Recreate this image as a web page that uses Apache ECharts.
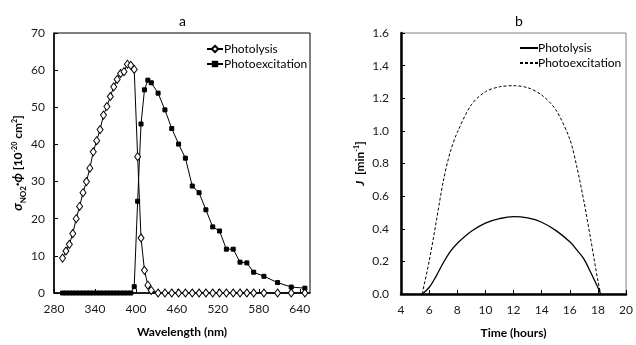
<!DOCTYPE html>
<html>
<head>
<meta charset="utf-8">
<script src="https://cdn.jsdelivr.net/npm/echarts@6/dist/echarts.min.js"></script>
<style>
html,body{margin:0;padding:0;background:#fff;}
#chart{width:636px;height:345px;}
</style>
</head>
<body>
<div id="chart"></div>
<script>
// ---- Data ----
const wavelength = [292.5, 297.5, 302.5, 307.5, 312.5, 317.5, 322.5, 327.5, 332.5, 337.5,
  342.5, 347.5, 352.5, 357.5, 362.5, 367.5, 372.5, 377.5, 382.5, 387.5,
  392.5, 397.5, 402.5, 407.5, 412.5, 417.5, 422.5, 432.5, 442.5, 452.5,
  462.5, 472.5, 482.5, 492.5, 502.5, 512.5, 522.5, 532.5, 542.5, 552.5,
  562.5, 572.5, 587.5, 607.5, 627.5, 647.5];
const photolysisSigma = [9.4, 11.3, 13.1, 16.0, 20.0, 23.3, 27.0, 30.0, 33.6, 38.0,
  41.0, 44.0, 47.9, 50.2, 52.9, 55.5, 57.5, 59.1, 59.6, 61.6,
  61.3, 60.2, 36.7, 14.8, 6.1, 2.1, 0.7, 0, 0, 0,
  0, 0, 0, 0, 0, 0, 0, 0, 0, 0,
  0, 0, 0, 0, 0, 0];
const photoexcitationSigma = [0, 0, 0, 0, 0, 0, 0, 0, 0, 0,
  0, 0, 0, 0, 0, 0, 0, 0, 0, 0,
  0, 1.7, 24.7, 45.5, 54.7, 57.3, 56.6, 53.8, 49.3, 44.3,
  40.1, 36.3, 28.8, 27.0, 22.4, 17.8, 16.7, 11.8, 11.8, 8.3,
  8.1, 5.6, 4.5, 2.8, 1.6, 1.3];

const hours = [5.5, 6, 6.5, 7, 7.5, 8, 9, 10, 11, 12, 13, 14, 15, 16, 16.5, 17, 17.5, 18, 18.2];
const jPhotolysis = [0, 0.04, 0.11, 0.19, 0.26, 0.31, 0.385, 0.435, 0.462, 0.474, 0.466, 0.44, 0.39, 0.32, 0.27, 0.215, 0.13, 0.04, 0];
const jPhotoexcitation = [0, 0.2, 0.44, 0.69, 0.87, 0.99, 1.16, 1.24, 1.27, 1.277, 1.265, 1.22, 1.13, 0.95, 0.78, 0.57, 0.33, 0.08, 0];

const leftXTicks = {min: 280, max: 655, interval: 60};
const leftYTicks = {min: 0, max: 70, interval: 10};
const rightXTicks = {min: 4, max: 20, interval: 2};
const rightYTicks = {min: 0, max: 1.6, interval: 0.2};

const seriesNames = ['Photolysis', 'Photoexcitation'];

// ---- Build ----
const FONT = 'Lato';
const zip = (xs, ys) => xs.map((x, i) => [x, ys[i]]);

const chart = echarts.init(document.getElementById('chart'), null, {renderer: 'canvas'});
const labelStyle = {color: '#1a1a1a', fontFamily: FONT, fontSize: 12};

const option = {
  animation: false,
  backgroundColor: '#fff',
  textStyle: {fontFamily: FONT},
  title: [
    {text: 'a', left: 174, top: 9, textStyle: {fontFamily: FONT, fontSize: 14, fontWeight: 'normal', color: '#000'}},
    {text: 'b', left: 510, top: 9, textStyle: {fontFamily: FONT, fontSize: 14, fontWeight: 'normal', color: '#000'}}
  ],
  legend: [
    {
      data: seriesNames, orient: 'vertical', left: 201, top: 38,
      itemWidth: 16, itemHeight: 8, itemGap: 3,
      textStyle: {fontFamily: FONT, fontSize: 12, color: '#000', padding: [0, 0, 0, -4]},
      selectedMode: false
    },
    {
      data: seriesNames.map(n => n + ' '), orient: 'vertical', left: 514, top: 37,
      itemWidth: 18, itemHeight: 8, itemGap: 3,
      formatter: n => n.trim(),
      itemStyle: {opacity: 0},
      textStyle: {fontFamily: FONT, fontSize: 12, color: '#000', padding: [0, 0, 0, -5]},
      selectedMode: false
    }
  ],
  grid: [
    {left: 54, right: 326, top: 33, bottom: 52, show: true, borderColor: '#000', borderWidth: 1},
    {left: 401, right: 8, top: 33, bottom: 51, show: true, borderColor: '#808080', borderWidth: 1}
  ],
  xAxis: [
    {
      type: 'value', gridIndex: 0, min: leftXTicks.min, max: leftXTicks.max, interval: leftXTicks.interval,
      name: 'Wavelength (nm)', nameLocation: 'middle', nameGap: 33,
      nameTextStyle: {fontFamily: FONT, fontSize: 12, fontWeight: 'bold', color: '#000'},
      axisLine: {lineStyle: {color: '#000', width: 1.5}},
      axisTick: {inside: true, length: 4, lineStyle: {color: '#000'}},
      axisLabel: {...labelStyle, margin: 10, showMaxLabel: false},
      splitLine: {show: false}
    },
    {
      type: 'value', gridIndex: 1, min: rightXTicks.min, max: rightXTicks.max, interval: rightXTicks.interval,
      name: 'Time (hours)', nameLocation: 'middle', nameGap: 33,
      nameTextStyle: {fontFamily: FONT, fontSize: 12, fontWeight: 'bold', color: '#000'},
      axisLine: {lineStyle: {color: '#000', width: 2.5}},
      axisTick: {inside: true, length: 4, lineStyle: {color: '#000'}},
      axisLabel: {...labelStyle, margin: 10},
      splitLine: {show: false}
    }
  ],
  yAxis: [
    {
      type: 'value', gridIndex: 0, min: leftYTicks.min, max: leftYTicks.max, interval: leftYTicks.interval,
      name: '{b|σ}{sub|NO2}{b|·ϕ}{n| [10}{sup|-20}{n| cm}{sup|2}{n|]}',
      nameLocation: 'middle', nameGap: 28, nameRotate: 90,
      nameTextStyle: {
        fontFamily: FONT, fontSize: 12, fontWeight: 'bold', color: '#000',
        rich: {
          b: {fontFamily: FONT, fontSize: 13, fontWeight: 'bold', fontStyle: 'italic', color: '#000', lineHeight: 14, verticalAlign: 'bottom'},
          n: {fontFamily: FONT, fontSize: 12, fontWeight: 'bold', color: '#000', lineHeight: 14, verticalAlign: 'bottom'},
          sub: {fontFamily: FONT, fontSize: 8, fontWeight: 'bold', color: '#000', lineHeight: 14, verticalAlign: 'bottom', padding: [0, 0, -3, 0]},
          sup: {fontFamily: FONT, fontSize: 7, fontWeight: 'bold', color: '#000', lineHeight: 14, verticalAlign: 'top', padding: [1, 0, 0, 0]}
        }
      },
      axisLine: {show: true, lineStyle: {color: '#000', width: 1.5}},
      axisTick: {show: true, inside: true, length: 4, lineStyle: {color: '#000'}},
      axisLabel: {...labelStyle, margin: 9},
      splitLine: {show: false}
    },
    {
      type: 'value', gridIndex: 1, min: rightYTicks.min, max: rightYTicks.max, interval: rightYTicks.interval,
      name: '{j|J}{n|  [min}{sup|-1}{n|]}',
      nameLocation: 'middle', nameGap: 35, nameRotate: 90,
      nameTextStyle: {
        fontFamily: FONT, fontSize: 12, color: '#000',
        rich: {
          j: {fontFamily: FONT, fontSize: 12, fontWeight: 'bold', fontStyle: 'italic', color: '#000', lineHeight: 14, verticalAlign: 'bottom'},
          n: {fontFamily: FONT, fontSize: 12, fontWeight: 'bold', color: '#000', lineHeight: 14, verticalAlign: 'bottom'},
          sup: {fontFamily: FONT, fontSize: 7, fontWeight: 'bold', color: '#000', lineHeight: 14, verticalAlign: 'top', padding: [1, 0, 0, 0]}
        }
      },
      axisLine: {show: true, lineStyle: {color: '#000', width: 2.5}},
      axisTick: {show: true, inside: true, length: 4, lineStyle: {color: '#000'}},
      axisLabel: {...labelStyle, margin: 12, formatter: v => v.toFixed(1)},
      splitLine: {show: false}
    }
  ],
  series: [
    {
      name: seriesNames[1], type: 'line', xAxisIndex: 0, yAxisIndex: 0,
      data: zip(wavelength, photoexcitationSigma),
      symbol: 'rect', symbolSize: 4,
      lineStyle: {color: '#000', width: 1},
      itemStyle: {color: '#000', borderColor: '#000'}
    },
    {
      name: seriesNames[0], type: 'line', xAxisIndex: 0, yAxisIndex: 0,
      data: zip(wavelength, photolysisSigma),
      symbol: 'diamond', symbolSize: [6, 8],
      lineStyle: {color: '#000', width: 1},
      itemStyle: {color: '#fff', borderColor: '#000', borderWidth: 1}
    },
    {
      name: seriesNames[0] + ' ', type: 'line', xAxisIndex: 1, yAxisIndex: 1,
      data: zip(hours, jPhotolysis),
      showSymbol: false, smooth: 0.4,
      lineStyle: {color: '#000', width: 1.3},
      itemStyle: {color: '#000'}
    },
    {
      name: seriesNames[1] + ' ', type: 'line', xAxisIndex: 1, yAxisIndex: 1,
      data: zip(hours, jPhotoexcitation),
      showSymbol: false, smooth: 0.3,
      lineStyle: {color: '#000', width: 1, type: [3, 2]},
      itemStyle: {color: '#000'}
    }
  ]
};
chart.setOption(option);
</script>
</body>
</html>
